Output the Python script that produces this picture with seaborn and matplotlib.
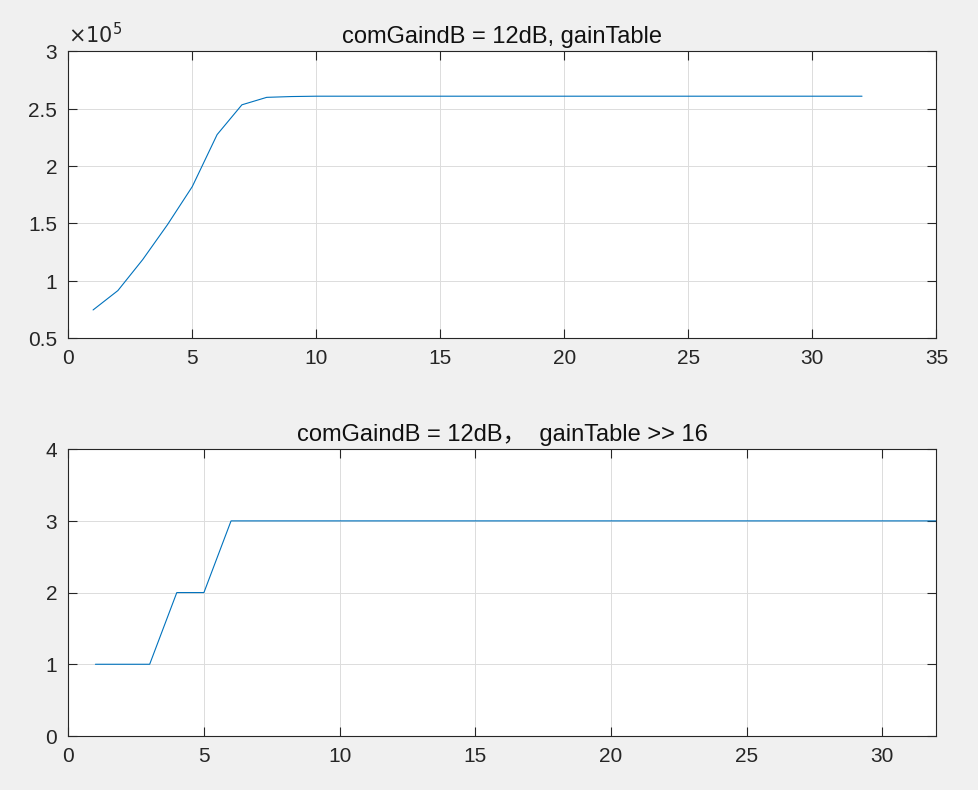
import matplotlib
matplotlib.use("Agg")
from matplotlib import pyplot as plt
from matplotlib.ticker import FuncFormatter
import seaborn as sns
import pandas as pd

# Datos
idx = list(range(1, 33))
gain_table = [74600, 91500, 118500, 149000, 182200, 227500, 253500, 260000,
              260700, 261000, 261000, 261000, 261000, 261000, 261000, 261000,
              261000, 261000, 261000, 261000, 261000, 261000, 261000, 261000,
              261000, 261000, 261000, 261000, 261000, 261000, 261000, 261000]
gain_shift = [1, 1, 1, 2, 2, 3, 3, 3, 3, 3, 3, 3, 3, 3, 3, 3,
              3, 3, 3, 3, 3, 3, 3, 3, 3, 3, 3, 3, 3, 3, 3, 3]

title_top = "comGaindB = 12dB, gainTable"
title_bot = "comGaindB = 12dB，  gainTable >> 16"

sns.set_style("whitegrid")
plt.rcParams['font.family'] = ['Liberation Sans', 'Noto Sans CJK SC', 'DejaVu Sans']

BG = "#f0f0f0"
LINE = "#0072bd"

fig = plt.figure(figsize=(9.782, 7.902), dpi=100, facecolor=BG)
ax1 = fig.add_axes([0.0698, 0.5718, 0.8875, 0.3628])
ax2 = fig.add_axes([0.0698, 0.0684, 0.8875, 0.3629])

df1 = pd.DataFrame({"x": idx, "y": gain_table})
df2 = pd.DataFrame({"x": idx, "y": gain_shift})
sns.lineplot(data=df1, x="x", y="y", ax=ax1, color=LINE, linewidth=0.8)
sns.lineplot(data=df2, x="x", y="y", ax=ax2, color=LINE, linewidth=0.8)

ax1.set_xlim(0, 35)
ax1.set_ylim(0.5e5, 3e5)
ax1.set_xticks(range(0, 36, 5))
ax1.set_yticks([0.5e5, 1e5, 1.5e5, 2e5, 2.5e5, 3e5])
ax1.yaxis.set_major_formatter(FuncFormatter(lambda v, p: f"{v / 1e5:g}"))
ax1.set_title(title_top, fontsize=17, pad=6, color="#111111")
ax1.text(0.0, 1.015, r"$\times10^{5}$", transform=ax1.transAxes,
         fontsize=15, ha="left", va="bottom", color="#262626")

ax2.set_xlim(0, 32)
ax2.set_ylim(0, 4)
ax2.set_xticks(range(0, 31, 5))
ax2.set_yticks(range(0, 5))
ax2.set_title(title_bot, fontsize=17, pad=6, color="#111111")

for ax in (ax1, ax2):
    ax.set_facecolor("white")
    ax.set_xlabel("")
    ax.set_ylabel("")
    ax.grid(True, color="#dcdcdc", linewidth=0.7)
    for s in ax.spines.values():
        s.set_color("#262626")
        s.set_linewidth(0.8)
    ax.tick_params(direction="in", length=6.5, width=0.8, color="#262626",
                   labelsize=15, labelcolor="#262626", top=True, right=True,
                   bottom=True, left=True, pad=8)

fig.savefig("out.png", dpi=100, facecolor=BG)
